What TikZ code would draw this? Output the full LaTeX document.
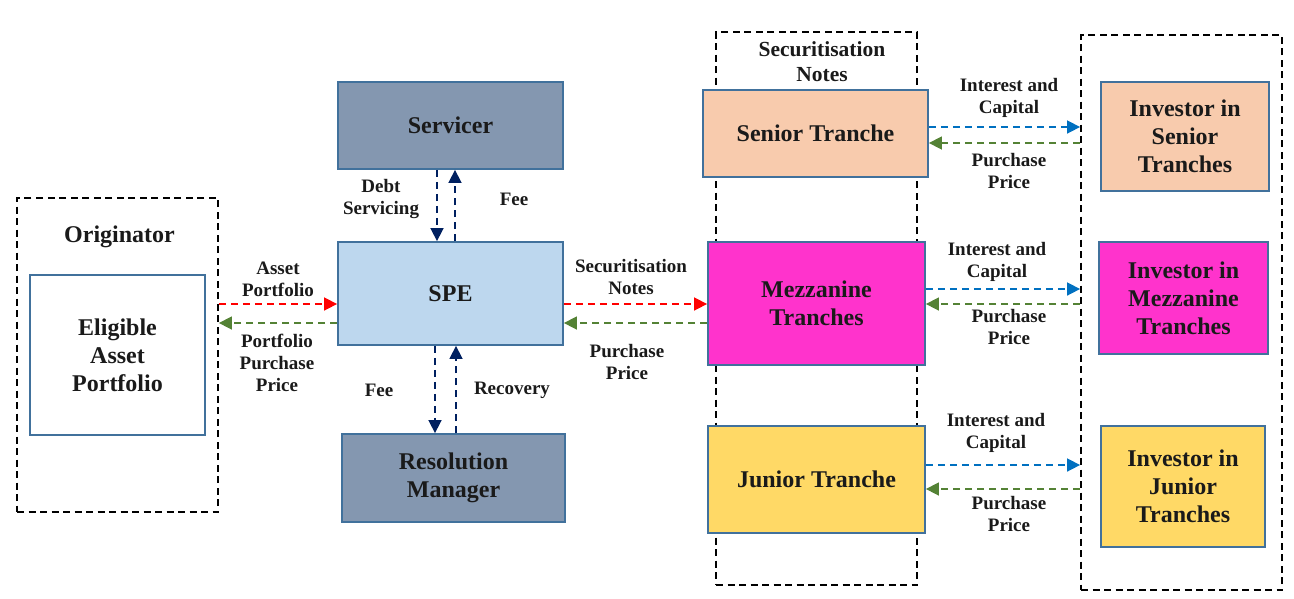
\documentclass[tikz,border=0pt]{standalone}
\usepackage{fontspec}
\setmainfont{Liberation Serif}
\usetikzlibrary{arrows.meta}

\definecolor{boxline}{HTML}{41719C}
\definecolor{slate}{HTML}{8497B0}
\definecolor{paleblue}{HTML}{BDD7EE}
\definecolor{peach}{HTML}{F8CBAD}
\definecolor{magenta2}{HTML}{FF33CC}
\definecolor{gold}{HTML}{FFD966}
\definecolor{navy}{HTML}{002060}
\definecolor{flowred}{HTML}{FF0000}
\definecolor{flowgreen}{HTML}{548235}
\definecolor{flowblue}{HTML}{0070C0}
\definecolor{txt}{HTML}{1A1A1A}

\tikzset{
  box/.style={draw=boxline, line width=1.8pt, inner sep=0pt, align=center,
    text=txt, font=\bfseries\fontsize{24}{28}\selectfont},
  grp/.style={draw=black, line width=1.8pt, dash pattern=on 7pt off 4.5pt,
    inner sep=0pt},
  lbl/.style={align=center, text=txt, inner sep=0pt,
    font=\bfseries\fontsize{19}{22}\selectfont},
  title/.style={align=center, text=txt, inner sep=0pt,
    font=\bfseries\fontsize{24}{28}\selectfont},
  flow/.style={line width=1.6pt, dash pattern=on 7pt off 5pt,
    -{Triangle[length=13pt,width=13pt]}},
}

\begin{document}
\begin{tikzpicture}[x=1pt,y=1pt]
\useasboundingbox (0,0) rectangle (1294,-598);

% grouping frames
\node[grp, minimum width=201pt, minimum height=314pt] (origg) at (117.5,-355) {};
\node[grp, minimum width=201pt, minimum height=553pt] (secg) at (816.5,-308.5) {};
\node[grp, minimum width=201pt, minimum height=555pt] (invg) at (1181.5,-312.5) {};

% frame titles
\node[title] (origt) at (119.5,-237) {Originator};
\node[title, font=\bfseries\fontsize{21.5}{25}\selectfont] (sect) at (822,-61.5) {Securitisation\\Notes};

% left and centre boxes
\node[box, fill=white, minimum width=175pt, minimum height=160pt] (elig) at (117.5,-355) {Eligible\\Asset\\Portfolio};
\node[box, fill=slate, minimum width=225pt, minimum height=87pt] (serv) at (450.5,-125.5) {Servicer};
\node[box, fill=paleblue, minimum width=225pt, minimum height=103pt] (spe) at (450.5,-293.5) {SPE};
\node[box, fill=slate, minimum width=223pt, minimum height=88pt] (rm) at (453.5,-478) {Resolution\\Manager};

% tranches
\node[box, fill=peach, minimum width=225pt, minimum height=87pt] (sen) at (815.5,-133.5) {Senior Tranche};
\node[box, fill=magenta2, minimum width=217pt, minimum height=123pt] (mez) at (816.5,-303.5) {Mezzanine\\Tranches};
\node[box, fill=gold, minimum width=217pt, minimum height=107pt] (jun) at (816.5,-479.5) {Junior Tranche};

% investors
\node[box, fill=peach, minimum width=168pt, minimum height=109pt] (isen) at (1185,-136.5) {Investor in\\Senior\\Tranches};
\node[box, fill=magenta2, minimum width=169pt, minimum height=112pt] (imez) at (1183.5,-298) {Investor in\\Mezzanine\\Tranches};
\node[box, fill=gold, minimum width=164pt, minimum height=121pt] (ijun) at (1183,-486.5) {Investor in\\Junior\\Tranches};

% originator <-> SPE
\draw[flow, flowred] (origg.east |- 0,-304) -- (spe.west |- 0,-304);
\draw[flow, flowgreen] (spe.west |- 0,-323) -- (origg.east |- 0,-323);
\node[lbl] (l1) at (278,-279) {Asset\\Portfolio};
\node[lbl] (l2) at (277,-363) {Portfolio\\Purchase\\Price};

% servicer <-> SPE
\draw[flow, navy] (serv.south -| 437,0) -- (spe.north -| 437,0);
\draw[flow, navy] (spe.north -| 455,0) -- (serv.south -| 455,0);
\node[lbl] (l3) at (381,-199) {Debt\\Servicing};
\node[lbl] (l4) at (514,-199) {Fee};

% SPE <-> resolution manager
\draw[flow, navy] (spe.south -| 435,0) -- (rm.north -| 435,0);
\draw[flow, navy] (rm.north -| 456,0) -- (spe.south -| 456,0);
\node[lbl] (l5) at (379,-390) {Fee};
\node[lbl] (l6) at (512,-390) {Recovery};

% SPE <-> mezzanine
\draw[flow, flowred] (spe.east |- 0,-304) -- (mez.west |- 0,-304);
\draw[flow, flowgreen] (mez.west |- 0,-323) -- (spe.east |- 0,-323);
\node[lbl] (l7) at (631,-277) {Securitisation\\Notes};
\node[lbl] (l8) at (627,-362) {Purchase\\Price};

% tranches <-> investors
\draw[flow, flowblue] (sen.east |- 0,-127) -- (invg.west |- 0,-127);
\draw[flow, flowgreen] (invg.west |- 0,-143) -- (sen.east |- 0,-143);
\node[lbl] (l9) at (1009,-98) {Interest and\\Capital};
\node[lbl] (l10) at (1009,-171) {Purchase\\Price};

\draw[flow, flowblue] (mez.east |- 0,-289) -- (invg.west |- 0,-289);
\draw[flow, flowgreen] (invg.west |- 0,-304) -- (mez.east |- 0,-304);
\node[lbl] (l11) at (997,-262) {Interest and\\Capital};
\node[lbl] (l12) at (1009,-327) {Purchase\\Price};

\draw[flow, flowblue] (jun.east |- 0,-465) -- (invg.west |- 0,-465);
\draw[flow, flowgreen] (invg.west |- 0,-489) -- (jun.east |- 0,-489);
\node[lbl] (l13) at (996,-433) {Interest and\\Capital};
\node[lbl] (l14) at (1009,-514) {Purchase\\Price};
\end{tikzpicture}
\end{document}
